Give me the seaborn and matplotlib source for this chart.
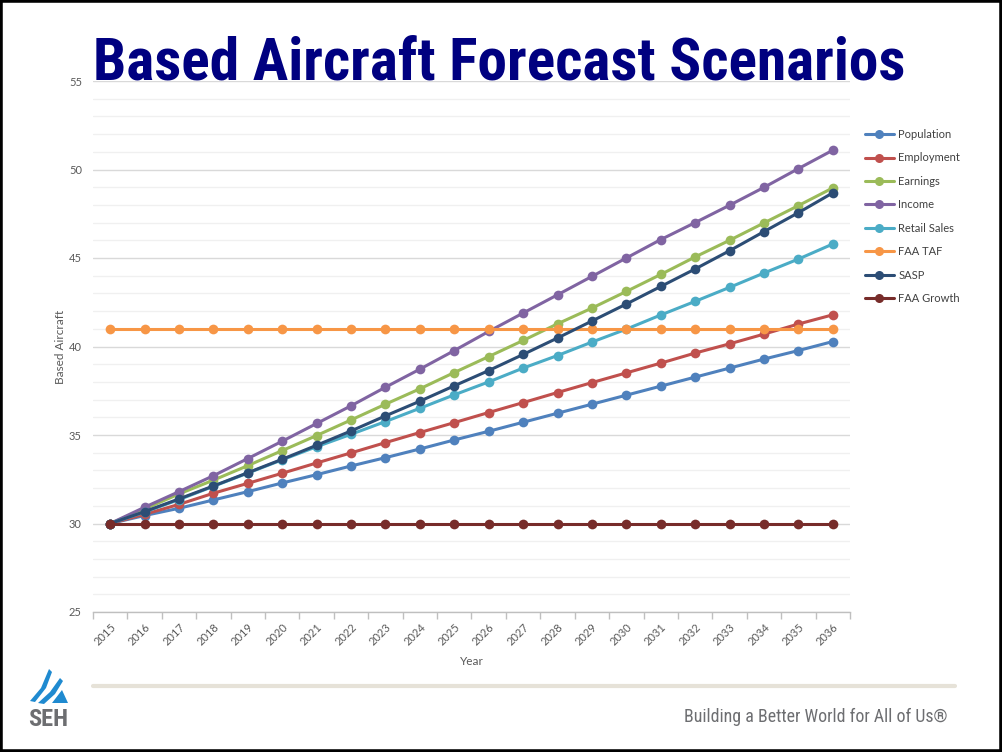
import matplotlib
matplotlib.use("Agg")
import numpy as np
import pandas as pd
import matplotlib.pyplot as plt
from matplotlib import font_manager
from matplotlib.font_manager import FontProperties
from matplotlib.lines import Line2D
from matplotlib.patches import Rectangle, Polygon
from matplotlib.ticker import MultipleLocator, FixedLocator
import seaborn as sns

# ---- data -------------------------------------------------------------
years = [2015, 2016, 2017, 2018, 2019, 2020, 2021, 2022, 2023, 2024, 2025,
         2026, 2027, 2028, 2029, 2030, 2031, 2032, 2033, 2034, 2035, 2036]

population = [30.00, 30.45, 30.86, 31.33, 31.80, 32.29, 32.76, 33.25, 33.72, 34.21, 34.72,
              35.21, 35.72, 36.23, 36.74, 37.25, 37.76, 38.27, 38.78, 39.29, 39.77, 40.28]
employment = [30.00, 30.52, 31.08, 31.71, 32.27, 32.84, 33.42, 33.99, 34.57, 35.14, 35.70,
              36.27, 36.83, 37.40, 37.96, 38.51, 39.06, 39.63, 40.15, 40.70, 41.27, 41.79]
earnings = [30.00, 30.82, 31.67, 32.45, 33.27, 34.12, 34.97, 35.85, 36.74, 37.61, 38.53,
            39.43, 40.34, 41.28, 42.17, 43.11, 44.07, 45.06, 46.00, 46.98, 47.96, 48.96]
income = [30.00, 30.92, 31.80, 32.70, 33.67, 34.65, 35.65, 36.65, 37.70, 38.72, 39.77,
          40.85, 41.89, 42.92, 43.96, 45.00, 46.04, 47.00, 47.98, 48.99, 50.05, 51.09]
retail_sales = [30.00, 30.65, 31.35, 32.10, 32.85, 33.60, 34.34, 35.04, 35.76, 36.51, 37.27,
                38.00, 38.78, 39.49, 40.25, 40.98, 41.78, 42.55, 43.34, 44.15, 44.94, 45.79]
faa_taf = [41.0, 41.0, 41.0, 41.0, 41.0, 41.0, 41.0, 41.0, 41.0, 41.0, 41.0,
           41.0, 41.0, 41.0, 41.0, 41.0, 41.0, 41.0, 41.0, 41.0, 41.0, 41.0]
sasp = [30.00, 30.67, 31.39, 32.12, 32.87, 33.63, 34.42, 35.23, 36.08, 36.91, 37.78,
        38.64, 39.55, 40.48, 41.44, 42.40, 43.39, 44.38, 45.41, 46.49, 47.56, 48.68]
faa_growth = [30.0, 30.0, 30.0, 30.0, 30.0, 30.0, 30.0, 30.0, 30.0, 30.0, 30.0,
              30.0, 30.0, 30.0, 30.0, 30.0, 30.0, 30.0, 30.0, 30.0, 30.0, 30.0]

series_names = ["Population", "Employment", "Earnings", "Income",
                "Retail Sales", "FAA TAF", "SASP", "FAA Growth"]
series_values = [population, employment, earnings, income,
                 retail_sales, faa_taf, sasp, faa_growth]
series_colors = ["#4f81bd", "#c0504d", "#9bbb59", "#8064a2",
                 "#4bacc6", "#f79646", "#2c4d75", "#772c2a"]

title_text = "Based Aircraft Forecast Scenarios"
footer_text = "Building a Better World for All of Us®"

# ---- fonts ------------------------------------------------------------
installed = {f.name for f in font_manager.fontManager.ttflist}


def pick(cands):
    for c in cands:
        if c in installed:
            return c
    return "DejaVu Sans"


def weight_num(w):
    if isinstance(w, (int, float)):
        return w
    return {"bold": 700, "heavy": 800, "black": 900, "semibold": 600,
            "demibold": 600, "normal": 400, "regular": 400, "book": 400,
            "medium": 500, "light": 300}.get(str(w).lower(), 400)


def condensed_face(bold):
    """Find a narrow/condensed sans face; returns FontProperties or None."""
    prefs = ["liberation sans narrow", "arial narrow", "roboto condensed",
             "open sans condensed", "noto sans", "dejavu sans"]
    hits = []
    for f in font_manager.fontManager.ttflist:
        tag = (f.name + " " + f.fname).lower()
        if not ("narrow" in tag or "condensed" in tag or
                str(f.stretch).lower() in ("condensed", "semi-condensed")):
            continue
        if "extra" in tag or "semi" in tag or "italic" in tag or "oblique" in tag \
                or str(f.style).lower() != "normal":
            continue
        w = weight_num(f.weight)
        if bold and w < 650:
            continue
        if not bold and (w < 350 or w > 450):
            continue
        rank = len(prefs)
        for i, p in enumerate(prefs):
            if p in tag:
                rank = i
                break
        hits.append((rank, f.fname))
    if not hits:
        return None
    hits.sort()
    return FontProperties(fname=hits[0][1])


body_font = pick(["Lato", "Open Sans", "Liberation Sans"])
title_fp = condensed_face(True)
plain_fp = condensed_face(False)
if title_fp is None:
    title_fp = FontProperties(family="Liberation Sans", weight="bold")
if plain_fp is None:
    plain_fp = FontProperties(family="Liberation Sans")

sns.set_theme(style="white")
plt.rcParams["font.family"] = [body_font, "DejaVu Sans"]

# ---- long-form table for seaborn -----------------------------------
rows = []
for name, vals in zip(series_names, series_values):
    for yr, v in zip(years, vals):
        rows.append({"Year": yr, "Based Aircraft": v, "Series": name})
df = pd.DataFrame(rows)

W, H = 1002, 752
fig = plt.figure(figsize=(W / 100, H / 100), dpi=100)
fig.patch.set_facecolor("white")
renderer = fig.canvas.get_renderer()

ax_l, ax_r, ax_t, ax_b = 93, 850, 81, 612
ax = fig.add_axes([ax_l / W, 1 - ax_b / H, (ax_r - ax_l) / W, (ax_b - ax_t) / H])

palette = dict(zip(series_names, series_colors))
sns.lineplot(data=df, x="Year", y="Based Aircraft", hue="Series",
             hue_order=series_names, palette=palette, marker="o",
             markersize=7, markeredgewidth=0, linewidth=2.2,
             errorbar=None, legend=False, ax=ax, zorder=3)

# axes range and grid
ax.set_xlim(years[0] - 0.5, years[-1] + 0.5)
ax.set_ylim(25, 55)
ax.yaxis.set_major_locator(MultipleLocator(5))
ax.yaxis.set_minor_locator(MultipleLocator(1))
ax.grid(which="major", axis="y", color="#d9d9d9", linewidth=1.0, zorder=0)
ax.grid(which="minor", axis="y", color="#f0f0f0", linewidth=1.0, zorder=0)
ax.grid(which="major", axis="x", visible=False)
ax.set_axisbelow(True)

for s in ("top", "right", "left"):
    ax.spines[s].set_visible(False)
ax.spines["bottom"].set_color("#bfbfbf")
ax.spines["bottom"].set_linewidth(1.0)

# x ticks: labels at years, marks between categories
ax.xaxis.set_major_locator(FixedLocator(years))
ax.set_xticklabels([str(y) for y in years], rotation=45, ha="right",
                   rotation_mode="anchor", fontsize=8, color="#595959")
ax.xaxis.set_minor_locator(FixedLocator([y - 0.5 for y in years] + [years[-1] + 0.5]))
ax.tick_params(axis="x", which="major", length=0, pad=7)
ax.tick_params(axis="x", which="minor", length=5, width=1, color="#bfbfbf",
               direction="out", bottom=True)
ax.tick_params(axis="y", which="both", length=0, pad=8, labelsize=8,
               labelcolor="#595959")

ax.set_xlabel("Year", fontsize=8.5, color="#595959", labelpad=6)
ax.set_ylabel("Based Aircraft", fontsize=8.5, color="#595959", labelpad=2)

# legend
handles = [Line2D([0], [0], color=c, lw=2.2, marker="o", markersize=6.5,
                  markeredgewidth=0) for c in series_colors]
fig.legend(handles, series_names, loc="upper left",
           bbox_to_anchor=(865 / W, 1 - 129 / H), frameon=False,
           fontsize=8, handlelength=2.6, handletextpad=0.4,
           labelspacing=1.12, borderpad=0, borderaxespad=0,
           labelcolor="#404040")


def fitted_text(x, y, s, fp, target_w, size0, **kw):
    """Place text and scale its size so its drawn width is target_w pixels."""
    fp = fp.copy()
    fp.set_size(size0)
    t = fig.text(x, y, s, fontproperties=fp, **kw)
    w = t.get_window_extent(renderer).width
    if w > 0:
        fp.set_size(size0 * target_w / w)
        t.set_fontproperties(fp)
    return t


# title
fitted_text(499 / W, 1 - 80 / H, title_text, title_fp, 812, 40,
            color="#000080", ha="center", va="baseline")

# footer rule and tagline
fig.add_artist(Line2D([93 / W, 955 / W], [1 - 686 / H, 1 - 686 / H],
                      transform=fig.transFigure, color="#e6e2d8", lw=3))
fitted_text(948 / W, 1 - 722.5 / H, footer_text, plain_fp, 262, 13,
            color="#6d6e71", ha="right", va="baseline")

# company mark
def px(pts):
    return [(x / W, 1 - y / H) for x, y in pts]

blue = "#1f8ad0"
for shape in ([(30, 701), (41, 688), (49, 669), (52, 672), (46, 688), (35, 702)],
              [(38, 703), (50, 692), (60, 678), (63, 681), (55, 694), (44, 704)],
              [(52, 703), (62, 690), (68, 703)]):
    fig.add_artist(Polygon(px(shape), closed=True, transform=fig.transFigure,
                           facecolor=blue, edgecolor="none"))
fitted_text(48 / W, 1 - 726 / H, "SEH", title_fp, 40, 18,
            color="#6d6e71", ha="center", va="baseline")

# outer frame
fig.add_artist(Rectangle((0, 0), 1, 1, transform=fig.transFigure, fill=False,
                         edgecolor="black", linewidth=4))

fig.savefig("out.png", dpi=100, facecolor="white")
